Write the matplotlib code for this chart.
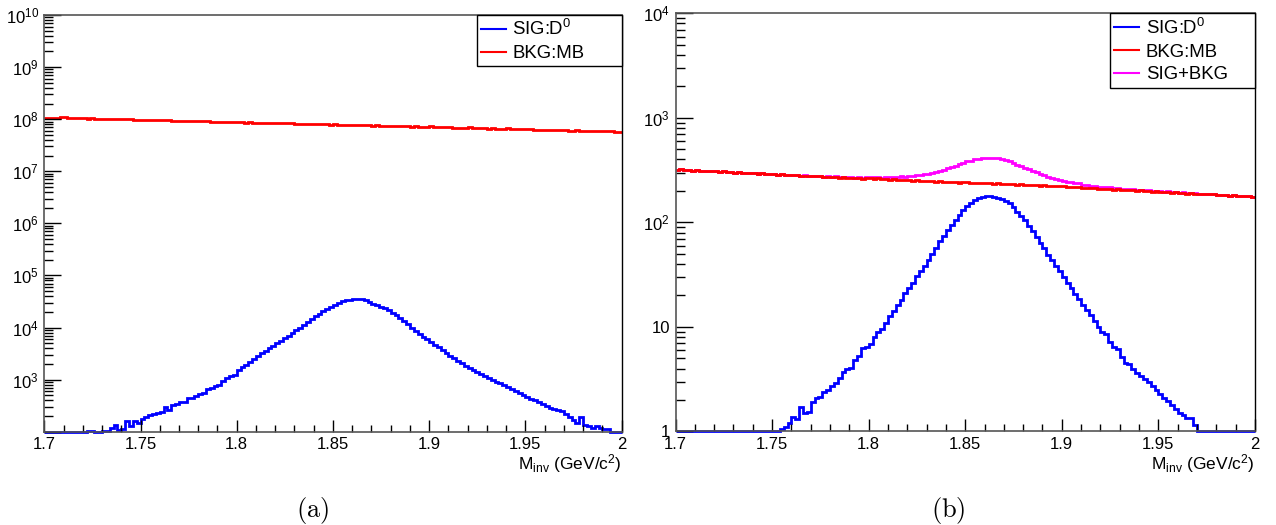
import numpy as np
import matplotlib
matplotlib.use('Agg')
import matplotlib.pyplot as plt
from matplotlib.lines import Line2D
from matplotlib.ticker import LogLocator, MultipleLocator, FuncFormatter, NullFormatter

plt.rcParams['font.family'] = ['Liberation Sans', 'DejaVu Sans']
plt.rcParams['mathtext.fontset'] = 'custom'
plt.rcParams['mathtext.rm'] = 'Liberation Sans'
plt.rcParams['mathtext.it'] = 'Liberation Sans:italic'
plt.rcParams['mathtext.default'] = 'regular'

# invariant mass binning: 150 bins of 2 MeV/c^2
m_low, m_high, n_bins = 1.7, 2.0, 150
edges = np.linspace(m_low, m_high, n_bins + 1)

# (a) D0 signal counts per bin
sig_a = [0, 0, 0, 0, 0, 0, 0, 0, 0, 0,
         0, 104, 103, 0, 0, 104, 105, 116, 134, 108,
         112, 163, 130, 160, 148, 173, 194, 209, 217, 228,
         242, 297, 265, 325, 345, 365, 380, 437, 450, 483,
         535, 555, 665, 700, 760, 800, 935, 1070, 1180, 1230,
         1560, 1750, 1950, 2200, 2450, 2800, 3200, 3600, 4050, 4500,
         5000, 5500, 6200, 7000, 7900, 8900, 10000, 11300, 12800, 14500,
         16500, 18500, 20700, 23000, 25300, 27500, 29800, 31700, 33200, 34300,
         34900, 35100, 34800, 33600, 31000, 28900, 27000, 25000, 23200, 21500,
         19300, 17300, 15300, 13300, 11500, 9900, 8600, 7500, 6600, 5900,
         5300, 4700, 4150, 3650, 3250, 2900, 2600, 2320, 2080, 1860,
         1680, 1530, 1400, 1290, 1190, 1090, 1000, 920, 850, 780,
         720, 650, 610, 560, 505, 465, 430, 400, 365, 340,
         310, 285, 268, 258, 252, 215, 195, 170, 145, 188,
         132, 126, 120, 130, 118, 114, 114, 0, 0, 0]

# (a) minimum-bias background, in units of 1e6 counts
bkg_a_mega = [107.3, 106.9, 107.1, 106.6, 108.4, 108.1, 105.9, 105.8, 105.4, 104.9,
              103.2, 102.8, 103.4, 102.1, 101.9, 102.3, 100.8, 101.0, 99.8, 100.4,
              99.3, 98.7, 99.6, 97.9, 98.2, 97.4, 96.8, 97.6, 96.0, 95.7,
              95.5, 95.9, 94.6, 94.2, 93.4, 94.0, 92.8, 92.5, 92.9, 91.7,
              91.9, 90.8, 91.2, 90.1, 89.6, 89.9, 88.7, 88.2, 88.9, 87.6,
              88.3, 87.1, 86.2, 86.8, 85.9, 85.4, 84.8, 85.2, 84.1, 83.6,
              85.1, 83.9, 83.2, 82.7, 83.3, 82.1, 81.6, 82.2, 80.9, 80.5,
              81.7, 80.3, 79.8, 80.1, 78.9, 79.4, 78.2, 77.8, 78.5, 77.1,
              78.6, 77.0, 76.4, 76.9, 75.8, 75.5, 76.1, 74.7, 74.4, 74.9,
              75.6, 73.8, 73.2, 73.6, 72.7, 72.3, 72.9, 71.6, 71.2, 71.8,
              72.8, 70.6, 70.1, 70.5, 69.4, 69.9, 68.8, 68.5, 69.1, 67.9,
              69.8, 67.4, 67.0, 67.6, 66.5, 66.1, 66.8, 65.6, 65.2, 65.8,
              67.2, 64.6, 64.2, 64.7, 63.8, 63.4, 64.0, 62.9, 62.5, 63.1,
              62.1, 61.8, 62.4, 61.3, 60.9, 61.5, 60.5, 60.2, 60.7, 59.8,
              59.5, 60.0, 59.1, 58.8, 59.4, 58.4, 58.2, 58.7, 57.9, 57.6]

# (b) D0 signal counts per bin
sig_b = [0, 0, 0, 0, 0, 0, 0, 0, 0, 0,
         0, 0, 0, 0, 0, 0, 0, 0, 0, 0,
         0, 0, 0, 0, 0, 0, 0, 1.05, 1.11, 1.2,
         1.39, 1.33, 1.71, 1.49, 1.55, 1.9, 2.1, 2.15, 2.4, 2.48,
         2.73, 2.9, 3.23, 3.69, 4.0, 4.05, 4.84, 5.3, 6.27, 6.5,
         6.8, 8.1, 9.0, 9.5, 10.9, 12.6, 14.3, 16.3, 18.2, 21.0,
         23.5, 26.6, 30.4, 34.0, 37.9, 44.0, 50.0, 57.0, 65.8, 73.5,
         85.0, 95.0, 106.0, 118.5, 132.0, 142.0, 153.0, 165.0, 171.0, 176.0,
         178.0, 177.0, 176.0, 173.0, 168.0, 162.0, 153.0, 141.0, 127.0, 114.0,
         104.5, 93.0, 82.0, 72.4, 63.5, 56.9, 49.0, 44.0, 37.9, 34.0,
         30.0, 26.3, 23.5, 20.8, 18.5, 16.3, 14.6, 13.1, 11.4, 10.1,
         9.0, 8.6, 7.2, 6.5, 6.1, 5.2, 4.5, 4.4, 4.0, 3.6,
         3.4, 3.2, 2.95, 2.75, 2.5, 2.3, 2.1, 1.95, 1.8, 1.65,
         1.5, 1.45, 1.34, 1.34, 1.15, 0, 0, 0, 0, 0,
         0, 0, 0, 0, 0, 0, 0, 0, 0, 0]

# (b) minimum-bias background counts per bin
bkg_b = [318, 321, 315, 317, 313, 316, 311, 313, 310, 307,
         309, 305, 307, 302, 304, 300, 302, 297, 299, 295,
         297, 292, 294, 290, 289, 292, 287, 288, 284, 286,
         282, 284, 279, 281, 277, 279, 275, 277, 272, 274,
         271, 273, 268, 270, 266, 268, 264, 266, 262, 265,
         267, 262, 264, 259, 261, 257, 259, 255, 257, 253,
         255, 251, 256, 249, 251, 247, 249, 245, 247, 243,
         246, 242, 244, 240, 242, 244, 238, 240, 237, 239,
         236, 238, 234, 236, 232, 234, 231, 233, 229, 231,
         228, 230, 226, 228, 225, 227, 223, 224, 221, 222,
         221, 219, 220, 216, 218, 214, 215, 212, 213, 210,
         211, 208, 209, 206, 207, 204, 205, 203, 204, 201,
         202, 199, 200, 197, 198, 197, 195, 196, 193, 194,
         191, 192, 189, 190, 188, 189, 186, 187, 185, 186,
         183, 184, 182, 180, 181, 179, 180, 178, 177, 176]

sig_label = r'SIG:D$^{0}$'
bkg_label = 'BKG:MB'
sum_label = 'SIG+BKG'


def log_label(hide_bottom, ymin):
    def fmt(v, pos):
        if hide_bottom and v <= ymin * 1.001:
            return ''
        n = int(round(np.log10(v)))
        if n == 0:
            return '1'
        if n == 1:
            return '10'
        return r'$10^{%d}$' % n
    return fmt


def draw_panel(ax, hists, ylim, hide_bottom, legend_x0):
    for vals, color in hists:
        # empty bins sit on the bottom of the frame, ROOT-style
        ax.stairs(np.maximum(np.asarray(vals, float), ylim[0]), edges,
                  color=color, lw=2, baseline=None, clip_on=False)

    ax.set_yscale('log')
    ax.set_xlim(m_low, m_high)
    ax.set_ylim(*ylim)

    ax.xaxis.set_major_locator(MultipleLocator(0.05))
    ax.xaxis.set_minor_locator(MultipleLocator(0.01))
    ax.xaxis.set_major_formatter(FuncFormatter(lambda v, p: '%g' % round(v, 3)))
    ax.yaxis.set_major_locator(LogLocator(base=10, numticks=20))
    ax.yaxis.set_minor_locator(LogLocator(base=10, subs=np.arange(2, 10), numticks=20))
    ax.yaxis.set_major_formatter(FuncFormatter(log_label(hide_bottom, ylim[0])))
    ax.yaxis.set_minor_formatter(NullFormatter())

    ax.tick_params(axis='both', which='both', direction='in', top=False, right=False,
                   labelsize=12, color='black', width=1)
    ax.tick_params(axis='y', which='major', length=12.5, pad=4)
    ax.tick_params(axis='y', which='minor', length=6.5)
    ax.tick_params(axis='x', which='major', length=9, pad=4)
    ax.tick_params(axis='x', which='minor', length=4.7)

    for side in ('left', 'bottom', 'top'):
        ax.spines[side].set_color('#555555')
        ax.spines[side].set_linewidth(1.2)
    ax.spines['right'].set_color('black')
    ax.spines['right'].set_linewidth(1.0)

    ax.set_xlabel(r'M$_{inv}$ (GeV/c$^{2}$)', loc='right', fontsize=12.5, labelpad=0)

    handles = [Line2D([], [], color=c, lw=1.5) for _, c in hists]
    labels = [sig_label, bkg_label, sum_label][:len(hists)]
    leg = ax.legend(handles, labels, loc='upper left',
                    bbox_to_anchor=(legend_x0, 0.0, 1.0 - legend_x0, 1.0),
                    mode='expand', borderaxespad=0, fontsize=13.4,
                    handlelength=1.35, handletextpad=0.35, borderpad=0.22,
                    labelspacing=0.32, fancybox=False, framealpha=1,
                    edgecolor='black')
    leg.get_frame().set_linewidth(1.0)


fig = plt.figure(figsize=(12.76, 5.25), dpi=100)
ax_a = fig.add_axes([0.0347, 0.1777, 0.4525, 0.7937])
ax_b = fig.add_axes([0.5294, 0.1781, 0.4541, 0.7965])

bkg_a = np.asarray(bkg_a_mega) * 1e6
draw_panel(ax_a, [(sig_a, 'blue'), (bkg_a, 'red')], (1e2, 1e10), True, 0.749)

sum_b = np.asarray(sig_b) + np.asarray(bkg_b)
draw_panel(ax_b, [(sig_b, 'blue'), (bkg_b, 'red'), (sum_b, 'magenta')],
           (1, 1e4), False, 0.75)
# draw the summed spectrum beneath the background line
ax_b.patches[2].set_zorder(0.9)

fig.text(313 / 1276, 1 - 510 / 525, r'$\mathrm{(a)}$', math_fontfamily='cm',
         fontsize=19, ha='center', va='center')
fig.text(948 / 1276, 1 - 510 / 525, r'$\mathrm{(b)}$', math_fontfamily='cm',
         fontsize=19, ha='center', va='center')

fig.savefig('out.png', dpi=100, facecolor='white')
